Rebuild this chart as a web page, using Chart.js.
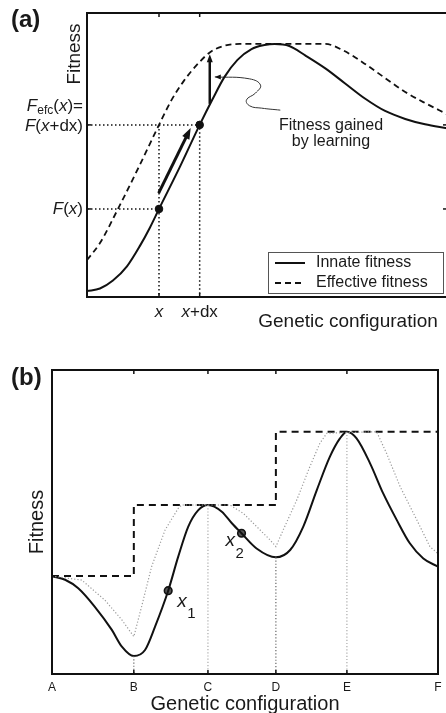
<!DOCTYPE html>
<html lang="en">
<head>
<meta charset="UTF-8">
<title>Innate and effective fitness</title>
<script src="https://cdn.jsdelivr.net/npm/chart.js"></script>
<style>
  html, body { margin: 0; padding: 0; background: #fff; overflow: hidden; width: 446px; height: 713px; }
  canvas { position: absolute; left: 0; }
  #panelA { top: 0; }
  #panelB { top: 340px; }
</style>
</head>
<body>
<canvas id="panelA" width="452" height="340"></canvas>
<canvas id="panelB" width="446" height="373"></canvas>
<script>
  const FAMILY = "'Liberation Sans', Arial, Helvetica, sans-serif";

  // ---- (a) a single fitness peak ----
  const innateX = [0, 0.36, 0.72, 1.11, 1.47, 1.75, 2.0, 2.58, 3.13, 3.49, 3.82, 4.18, 4.57, 4.93, 5.21, 5.62, 6.07, 6.62, 7.17, 7.73, 8.28, 8.84, 9.39, 10];
  const innateY = [0.21, 0.30, 0.58, 1.08, 1.80, 2.45, 3.10, 4.58, 6.06, 6.97, 7.75, 8.35, 8.73, 8.87, 8.91, 8.84, 8.50, 8.05, 7.52, 6.98, 6.55, 6.27, 6.08, 5.94];
  const effX = [0, 0.36, 0.86, 1.44, 2.0, 2.35, 2.69, 3.05, 3.43, 3.80, 4.24, 6.62, 7.09, 7.65, 8.28, 8.84, 9.39, 10];
  const effY = [1.30, 1.90, 3.10, 4.58, 6.06, 6.94, 7.61, 8.17, 8.63, 8.84, 8.91, 8.91, 8.70, 8.27, 7.71, 7.22, 6.83, 6.44];
  const xTick = 2.0, xdxTick = 3.13;      // x and x+dx
  const fAtX = 3.10, fAtXdx = 6.06;       // F(x) and F(x+dx)
  const stepArrow = [1.99, 3.66, 2.88, 5.95];   // x0, y0, x1, y1
  const gainArrow = [3.41, 6.80, 3.41, 8.55];
  const curlX = [3.55, 4.52, 4.82, 4.68, 4.43, 4.52, 4.85, 5.37];
  const curlY = [7.75, 7.68, 7.46, 7.18, 6.94, 6.73, 6.65, 6.58];

  // ---- (b) rugged landscape ----
  const tickNames = ['A', 'B', 'C', 'D', 'E', 'F'];
  const tickPos = [0, 2.12, 4.04, 5.80, 7.64, 10];
  const landX = [0, 0.34, 0.68, 1.11, 1.55, 1.81, 2.12, 2.41, 2.67, 3.01, 3.27, 3.53, 3.79, 4.04, 4.40, 4.66, 4.91, 5.30, 5.80, 6.17, 6.51, 6.86, 7.20, 7.46, 7.64, 7.89, 8.24, 8.58, 8.93, 9.27, 9.62, 10];
  const landY = [3.22, 3.10, 2.82, 2.21, 1.45, 0.90, 0.59, 0.79, 1.56, 2.74, 3.86, 4.85, 5.39, 5.56, 5.34, 4.96, 4.63, 4.13, 3.84, 4.08, 4.85, 6.05, 7.15, 7.75, 7.97, 7.75, 6.93, 5.94, 5.07, 4.30, 3.80, 3.53];
  const learnX = [0, 0.77, 1.37, 1.81, 2.12, 2.32, 2.58, 2.93, 3.27, 3.36, 4.61, 4.96, 5.30, 5.65, 5.80, 5.99, 6.34, 6.68, 6.94, 7.12, 8.41, 8.67, 9.02, 9.45, 9.79, 10];
  const learnY = [3.22, 3.09, 2.43, 1.78, 1.23, 2.21, 3.53, 4.74, 5.45, 5.56, 5.56, 5.28, 4.85, 4.41, 4.19, 4.74, 5.72, 6.82, 7.59, 7.92, 7.97, 7.25, 6.16, 5.07, 4.19, 3.96];
  const stepX = [0, 2.12, 2.12, 5.80, 5.80, 10];
  const stepY = [3.22, 3.22, 5.56, 5.56, 7.97, 7.97];
  const dropX = [2.12, 4.04, 5.80, 7.64];
  const dropY = [0.59, 5.56, 3.84, 7.97];
  const dropColor = ['#666', '#aaa', '#666', '#aaa'];
  const markX = [3.01, 4.91];
  const markY = [2.74, 4.63];

  const pts = (xs, ys) => xs.map((x, i) => ({ x: x, y: ys[i] }));

  function line(ctx, x0, y0, x1, y1) {
    ctx.beginPath(); ctx.moveTo(x0, y0); ctx.lineTo(x1, y1); ctx.stroke();
  }

  function arrow(ctx, x0, y0, x1, y1, width, headLen, headW) {
    const a = Math.atan2(y1 - y0, x1 - x0);
    ctx.lineWidth = width;
    line(ctx, x0, y0, x1 - Math.cos(a) * headLen * 0.7, y1 - Math.sin(a) * headLen * 0.7);
    ctx.beginPath();
    ctx.moveTo(x1, y1);
    ctx.lineTo(x1 - Math.cos(a) * headLen + Math.sin(a) * headW / 2, y1 - Math.sin(a) * headLen - Math.cos(a) * headW / 2);
    ctx.lineTo(x1 - Math.cos(a) * headLen - Math.sin(a) * headW / 2, y1 - Math.sin(a) * headLen + Math.cos(a) * headW / 2);
    ctx.closePath();
    ctx.fill();
  }

  // text made of italic / upright / subscript pieces
  function rich(ctx, parts, x, y, size, align) {
    const fonts = {
      n: size + 'px ' + FAMILY,
      i: 'italic ' + size + 'px ' + FAMILY,
      s: Math.round(size * 0.72) + 'px ' + FAMILY
    };
    let w = 0;
    parts.forEach(p => { ctx.font = fonts[p[1]]; w += ctx.measureText(p[0]).width; });
    let cx = align === 'right' ? x - w : align === 'center' ? x - w / 2 : x;
    ctx.textAlign = 'left';
    parts.forEach(p => {
      ctx.font = fonts[p[1]];
      ctx.fillText(p[0], cx, y + (p[1] === 's' ? size * 0.28 : 0));
      cx += ctx.measureText(p[0]).width;
    });
  }

  function vertTitle(ctx, text, x, y, size) {
    ctx.save();
    ctx.translate(x, y);
    ctx.rotate(-Math.PI / 2);
    ctx.font = size + 'px ' + FAMILY;
    ctx.textAlign = 'center';
    ctx.textBaseline = 'alphabetic';
    ctx.fillText(text, 0, 0);
    ctx.restore();
  }

  const hiddenScales = {
    x: { type: 'linear', min: 0, max: 10, display: false },
    y: { type: 'linear', min: 0, max: 10, display: false }
  };

  const overlayA = {
    id: 'overlayA',
    afterDraw(chart) {
      const { ctx, chartArea: ca, scales: { x: xs, y: ys } } = chart;
      ctx.save();
      ctx.strokeStyle = '#111';
      ctx.fillStyle = '#111';

      // learning step along the slope and the gain it gives
      arrow(ctx, xs.getPixelForValue(stepArrow[0]), ys.getPixelForValue(stepArrow[1]),
        xs.getPixelForValue(stepArrow[2]), ys.getPixelForValue(stepArrow[3]), 3, 11, 8);
      arrow(ctx, xs.getPixelForValue(gainArrow[0]), ys.getPixelForValue(gainArrow[1]),
        xs.getPixelForValue(gainArrow[2]), ys.getPixelForValue(gainArrow[3]), 2.5, 8, 6);
      // small head at the start of the pointer line
      ctx.lineWidth = 1;
      const hx = xs.getPixelForValue(curlX[0]), hy = ys.getPixelForValue(curlY[0]);
      ctx.beginPath(); ctx.moveTo(hx, hy); ctx.lineTo(hx + 6, hy - 2.5); ctx.lineTo(hx + 6, hy + 2.5); ctx.closePath(); ctx.fill();

      // frame
      ctx.lineWidth = 2;
      ctx.strokeRect(ca.left, ca.top, ca.right - ca.left, ca.bottom - ca.top);
      ctx.lineWidth = 1.5;
      [xTick, xdxTick].forEach(v => {
        const px = xs.getPixelForValue(v);
        line(ctx, px, ca.top, px, ca.top + 4);
        line(ctx, px, ca.bottom, px, ca.bottom - 4);
      });
      [fAtX, fAtXdx].forEach(v => {
        const py = ys.getPixelForValue(v);
        line(ctx, ca.left, py, ca.left + 4, py);
        line(ctx, ca.right, py, ca.right - 4, py);
      });

      // labels
      ctx.fillStyle = '#1a1a1a';
      ctx.textBaseline = 'middle';
      const yX = ys.getPixelForValue(fAtX), yXdx = ys.getPixelForValue(fAtXdx);
      rich(ctx, [['F', 'i'], ['(', 'n'], ['x', 'i'], [')', 'n']], ca.left - 4, yX, 17, 'right');
      rich(ctx, [['F', 'i'], ['(', 'n'], ['x', 'i'], ['+dx)', 'n']], ca.left - 4, yXdx + 1, 17, 'right');
      rich(ctx, [['F', 'i'], ['efc', 's'], ['(', 'n'], ['x', 'i'], [')=', 'n']], ca.left - 4, yXdx - 19, 17, 'right');
      ctx.textBaseline = 'alphabetic';
      rich(ctx, [['x', 'i']], xs.getPixelForValue(xTick), ca.bottom + 20, 17, 'center');
      rich(ctx, [['x', 'i'], ['+dx', 'n']], xs.getPixelForValue(xdxTick), ca.bottom + 20, 17, 'center');

      ctx.font = '19px ' + FAMILY;
      ctx.textAlign = 'center';
      ctx.fillText('Genetic configuration', 348, ca.bottom + 30);
      vertTitle(ctx, 'Fitness', 80, 54, 19);

      ctx.font = '16px ' + FAMILY;
      ctx.fillText('Fitness gained', 331, 130);
      ctx.fillText('by learning', 331, 146);

      ctx.font = 'bold 24px ' + FAMILY;
      ctx.textAlign = 'left';
      ctx.fillText('(a)', 11, 27);

      // legend
      const lx = ca.right - 179, ly = ca.bottom - 45;
      ctx.fillStyle = '#fff';
      ctx.fillRect(lx, ly, 175, 41);
      ctx.strokeStyle = '#555';
      ctx.lineWidth = 1;
      ctx.strokeRect(lx + 0.5, ly + 0.5, 175, 41);
      ctx.strokeStyle = '#111';
      ctx.lineWidth = 2;
      line(ctx, lx + 7, ly + 11, lx + 37, ly + 11);
      ctx.setLineDash([6, 4]);
      line(ctx, lx + 7, ly + 31, lx + 37, ly + 31);
      ctx.setLineDash([]);
      ctx.fillStyle = '#1a1a1a';
      ctx.font = '16px ' + FAMILY;
      ctx.textBaseline = 'middle';
      ctx.fillText('Innate fitness', lx + 48, ly + 11);
      ctx.fillText('Effective fitness', lx + 48, ly + 31);
      ctx.restore();
    }
  };

  const overlayB = {
    id: 'overlayB',
    afterDraw(chart) {
      const { ctx, chartArea: ca, scales: { x: xs, y: ys } } = chart;
      ctx.save();
      ctx.strokeStyle = '#111';
      ctx.lineWidth = 2;
      ctx.strokeRect(ca.left, ca.top, ca.right - ca.left, ca.bottom - ca.top);
      ctx.lineWidth = 1.5;
      tickPos.slice(1, -1).forEach(v => {
        const px = xs.getPixelForValue(v);
        line(ctx, px, ca.top, px, ca.top + 4);
        line(ctx, px, ca.bottom, px, ca.bottom - 4);
      });

      ctx.fillStyle = '#1a1a1a';
      ctx.font = '12px ' + FAMILY;
      ctx.textAlign = 'center';
      ctx.textBaseline = 'alphabetic';
      tickPos.forEach((v, i) => ctx.fillText(tickNames[i], xs.getPixelForValue(v), ca.bottom + 17));

      ctx.font = '20px ' + FAMILY;
      ctx.fillText('Genetic configuration', 245, ca.bottom + 36);
      vertTitle(ctx, 'Fitness', 43, 182, 20);

      ctx.font = 'bold 24px ' + FAMILY;
      ctx.textAlign = 'left';
      ctx.fillText('(b)', 11, 45);

      // x1, x2 next to their points
      const p1x = xs.getPixelForValue(markX[0]), p1y = ys.getPixelForValue(markY[0]);
      const p2x = xs.getPixelForValue(markX[1]), p2y = ys.getPixelForValue(markY[1]);
      ctx.font = 'italic 19px ' + FAMILY;
      ctx.fillText('x', p1x + 9, p1y + 16);
      ctx.fillText('x', p2x - 16, p2y + 13);
      ctx.font = '15px ' + FAMILY;
      ctx.fillText('1', p1x + 19, p1y + 27);
      ctx.fillText('2', p2x - 6, p2y + 25);
      ctx.restore();
    }
  };

  const dotted = { borderColor: '#111', borderWidth: 1.5, borderDash: [1.5, 2.5], pointRadius: 0, showLine: true };

  new Chart(document.getElementById('panelA'), {
    type: 'scatter',
    data: {
      datasets: [
        Object.assign({ data: [{ x: 0, y: fAtX }, { x: xTick, y: fAtX }] }, dotted),
        Object.assign({ data: [{ x: 0, y: fAtXdx }, { x: xdxTick, y: fAtXdx }, { x: xdxTick, y: 0 }] }, dotted),
        Object.assign({ data: [{ x: xTick, y: fAtXdx }, { x: xTick, y: 0 }] }, dotted),
        {
          label: 'Innate fitness', data: pts(innateX, innateY), showLine: true,
          borderColor: '#111', borderWidth: 2, pointRadius: 0, cubicInterpolationMode: 'monotone'
        },
        {
          label: 'Effective fitness', data: pts(effX, effY), showLine: true,
          borderColor: '#111', borderWidth: 1.8, borderDash: [6, 4], pointRadius: 0, cubicInterpolationMode: 'monotone'
        },
        {
          data: pts(curlX, curlY), showLine: true, borderColor: '#333', borderWidth: 1, pointRadius: 0, tension: 0.45
        },
        {
          data: [{ x: xTick, y: fAtX }, { x: xdxTick, y: fAtXdx }], showLine: false,
          pointRadius: 3.8, backgroundColor: '#111', borderColor: '#111'
        }
      ]
    },
    options: {
      responsive: false,
      animation: false,
      layout: { padding: { left: 87, top: 13, right: 4, bottom: 43 } },
      plugins: { legend: { display: false }, tooltip: { enabled: false } },
      scales: hiddenScales
    },
    plugins: [overlayA]
  });

  const drops = dropX.map((x, i) => ({
    data: [{ x: x, y: dropY[i] }, { x: x, y: 0 }], showLine: true,
    borderColor: dropColor[i], borderWidth: 1.2, borderDash: [1.2, 2], pointRadius: 0
  }));

  new Chart(document.getElementById('panelB'), {
    type: 'scatter',
    data: {
      datasets: drops.concat([
        {
          data: pts(learnX, learnY), showLine: true,
          borderColor: '#9a9a9a', borderWidth: 1.2, borderDash: [1.2, 2], pointRadius: 0
        },
        {
          data: pts(stepX, stepY), showLine: true,
          borderColor: '#111', borderWidth: 2, borderDash: [7, 5], pointRadius: 0
        },
        {
          data: pts(landX, landY), showLine: true,
          borderColor: '#111', borderWidth: 2, pointRadius: 0, cubicInterpolationMode: 'monotone'
        },
        {
          data: pts(markX, markY), showLine: false,
          pointRadius: 3.8, backgroundColor: '#555', borderColor: '#111', borderWidth: 1.6
        }
      ])
    },
    options: {
      responsive: false,
      animation: false,
      layout: { padding: { left: 52, top: 30, right: 8, bottom: 39 } },
      plugins: { legend: { display: false }, tooltip: { enabled: false } },
      scales: hiddenScales
    },
    plugins: [overlayB]
  });
</script>
</body>
</html>
